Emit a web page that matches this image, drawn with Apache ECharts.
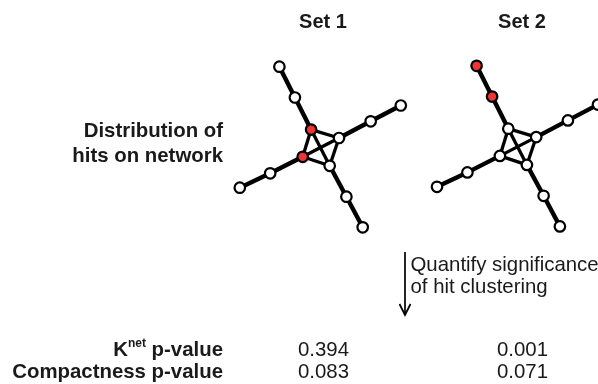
<!DOCTYPE html>
<html>
<head>
<meta charset="utf-8">
<script src="https://cdn.jsdelivr.net/npm/echarts@6/dist/echarts.min.js"></script>
<style>
html,body{margin:0;padding:0;background:#fff;}
#chart{width:598px;height:384px;}
</style>
</head>
<body>
<div id="chart"></div>
<script>
// ---- data ----
const SET_NAMES = ['Set 1', 'Set 2'];
const NODE_NAMES = ['topEnd','top2','coreTop','coreRight','coreLeft','coreBottom','r1','rEnd','l1','lEnd','b1','bEnd'];
const NODE_X = [-41.3, -25.8, -9.6, 18.3, -18.0, 9.0, 50.0, 80.1, -50.5, -80.9, 25.7, 42.0];
const NODE_Y = [80.8, 50.0, 17.9, 9.5, -9.3, -18.3, 26.2, 42.0, -25.8, -40.2, -49.2, -79.8];
const EDGE_SOURCE = ['topEnd','top2','coreTop','coreTop','coreTop','coreRight','coreRight','coreLeft','coreRight','r1','coreLeft','l1','coreBottom','b1'];
const EDGE_TARGET = ['top2','coreTop','coreRight','coreLeft','coreBottom','coreLeft','coreBottom','coreBottom','r1','rEnd','l1','lEnd','b1','bEnd'];
const CORE_NODES = ['coreTop','coreRight','coreLeft','coreBottom'];
const SET1_HITS = ['coreTop','coreLeft'];
const SET2_HITS = ['topEnd','top2'];
const ROW_LABELS = ['Knet p-value', 'Compactness p-value'];
const KNET_P = [0.394, 0.001];
const COMPACT_P = [0.083, 0.071];

// ---- styling / layout ----
const FONT = '"Liberation Sans", Arial, Helvetica, sans-serif';
const TXT = '#1a1a1a';
const RED = '#f03434';
const GRID_CENTERS = [[320.7, 147.5], [517.9, 146.6]];
const X_RANGES = [[-100, 100], [-100, 80.1]];
const Y_RANGE = [-100, 100];
const COL_X = [323, 522];

const hitsBySet = [SET1_HITS, SET2_HITS];

const grids = [], xAxes = [], yAxes = [], series = [];
SET_NAMES.forEach((name, s) => {
  const c = GRID_CENTERS[s];
  const xr = X_RANGES[s];
  grids.push({left: c[0] + xr[0], top: c[1] - Y_RANGE[1], width: xr[1] - xr[0], height: Y_RANGE[1] - Y_RANGE[0], show: false, containLabel: false});
  xAxes.push({type: 'value', gridIndex: s, min: xr[0], max: xr[1], show: false});
  yAxes.push({type: 'value', gridIndex: s, min: Y_RANGE[0], max: Y_RANGE[1], show: false});
  const hits = hitsBySet[s];
  const data = NODE_NAMES.map((n, i) => ({
    name: n,
    value: [NODE_X[i], NODE_Y[i]],
    itemStyle: {
      color: hits.includes(n) ? RED : '#ffffff',
      borderColor: '#000',
      borderWidth: 2.2
    }
  }));
  const links = EDGE_SOURCE.map((src, k) => {
    const tgt = EDGE_TARGET[k];
    const core = CORE_NODES.includes(src) && CORE_NODES.includes(tgt);
    return {source: src, target: tgt, lineStyle: {color: '#000', width: core ? 3.3 : 4.4, opacity: 1}};
  });
  series.push({
    type: 'graph',
    coordinateSystem: 'cartesian2d',
    xAxisIndex: s,
    yAxisIndex: s,
    symbol: 'circle',
    symbolSize: 10.5,
    data: data,
    links: links,
    label: {show: false},
    emphasis: {disabled: true},
    silent: true,
    animation: false,
    z: 2
  });
});

const graphics = [];
// set titles
SET_NAMES.forEach((name, s) => {
  graphics.push({type: 'text', x: COL_X[s], y: 22.5, style: {text: name, font: 'bold 20px ' + FONT, fill: TXT, align: 'center', verticalAlign: 'middle'}});
});
// row label for network
graphics.push({type: 'text', x: 223, y: 131, style: {text: 'Distribution of', font: 'bold 20.4px ' + FONT, fill: TXT, align: 'right', verticalAlign: 'middle'}});
graphics.push({type: 'text', x: 223, y: 156, style: {text: 'hits on network', font: 'bold 20.4px ' + FONT, fill: TXT, align: 'right', verticalAlign: 'middle'}});
// arrow
graphics.push({type: 'line', shape: {x1: 405, y1: 252, x2: 405, y2: 315}, style: {stroke: '#000', lineWidth: 1.7}});
graphics.push({type: 'polyline', shape: {points: [[399.5, 304], [405, 315], [410.5, 304]]}, style: {stroke: '#000', lineWidth: 1.7, fill: null}});
graphics.push({type: 'text', x: 410.5, y: 265, style: {text: 'Quantify significance', font: '20.4px ' + FONT, fill: TXT, align: 'left', verticalAlign: 'middle'}});
graphics.push({type: 'text', x: 410.5, y: 287.5, style: {text: 'of hit clustering', font: '20.4px ' + FONT, fill: TXT, align: 'left', verticalAlign: 'middle'}});
// p-value rows
const rowY = [350, 372];
graphics.push({type: 'text', x: 223, y: rowY[0], style: {
  text: '{b|K}{s|' + ROW_LABELS[0].slice(1, 4) + '}{b|' + ROW_LABELS[0].slice(4) + '}',
  align: 'right', verticalAlign: 'middle',
  rich: {
    b: {font: 'bold 20.4px ' + FONT, fill: TXT, lineHeight: 24, verticalAlign: 'middle'},
    s: {font: 'bold 12px ' + FONT, fill: TXT, lineHeight: 13, verticalAlign: 'top'}
  }
}});
graphics.push({type: 'text', x: 223, y: rowY[1], style: {text: ROW_LABELS[1], font: 'bold 20.4px ' + FONT, fill: TXT, align: 'right', verticalAlign: 'middle'}});
[KNET_P, COMPACT_P].forEach((vals, r) => {
  vals.forEach((v, s) => {
    graphics.push({type: 'text', x: COL_X[s] + 0.5, y: rowY[r] + 0.5, style: {text: v.toFixed(3), font: '20.4px ' + FONT, fill: TXT, align: 'center', verticalAlign: 'middle'}});
  });
});

const chart = echarts.init(document.getElementById('chart'), null, {renderer: 'canvas'});
chart.setOption({
  backgroundColor: '#ffffff',
  animation: false,
  grid: grids,
  xAxis: xAxes,
  yAxis: yAxes,
  series: series,
  graphic: {elements: graphics}
});
</script>
</body>
</html>
